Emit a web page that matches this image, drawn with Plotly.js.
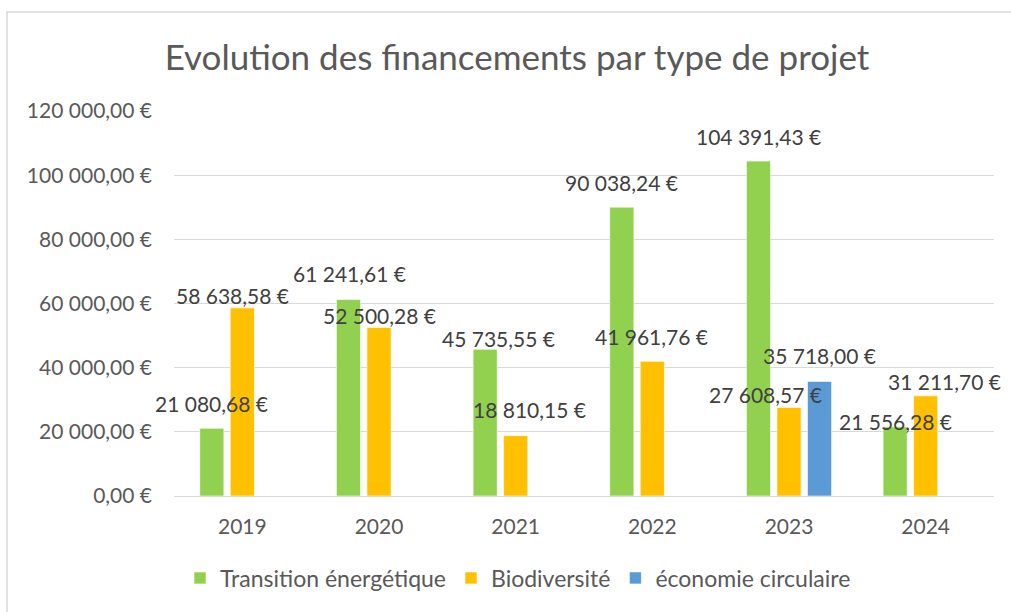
<!DOCTYPE html>
<html>
<head>
<meta charset="utf-8">
<script src="https://cdn.plot.ly/plotly-3.0.1.min.js"></script>
<style>html,body{margin:0;padding:0;background:#fff;}#chart{width:1011px;height:612px;}</style>
</head>
<body>
<div id="chart"></div>
<script>
// ---- data ----
const years = ["2019", "2020", "2021", "2022", "2023", "2024"];
const transition = [21080.68, 61241.61, 45735.55, 90038.24, 104391.43, 21556.28];
const biodiversite = [58638.58, 52500.28, 18810.15, 41961.76, 27608.57, 31211.70];
const economie = [null, null, null, null, 35718.00, null];
const seriesNames = ["Transition énergétique", "Biodiversité", "économie circulaire"];

// ---- style ----
const colors = ["#92D050", "#FFC000", "#5B9BD5"];
const FONT = "Lato, 'Liberation Sans', sans-serif";
const TXT = "#595959";
const BARGAP = 0.33;
const M = {l: 174, r: 17, t: 111, b: 116};
// manual nudges of the data labels (pixels: [dx, dy above bar top]) as in the source chart
const labelNudge = [
  [[0, 25], [1, 26], [13, 11], [0, 25], [0, 25], [0, 5]],
  [[-10, 12], [0, 12], [14, 26], [-1, 25], [-24, 13], [19, 14]],
  [[0, 26], [0, 26], [0, 26], [0, 26], [0, 26], [0, 26]]
];

const allSeries = [transition, biodiversite, economie];

function fmt(v) {
  const parts = v.toFixed(2).split(".");
  parts[0] = parts[0].replace(/\B(?=(\d{3})+(?!\d))/g, " ");
  return parts[0] + "," + parts[1] + " €";
}

const traces = allSeries.map((vals, i) => ({
  type: "bar",
  name: seriesNames[i],
  x: years,
  y: vals,
  marker: {color: colors[i], line: {color: "rgba(255,255,255,0.6)", width: 1}},
  hoverinfo: "none"
}));

const plotW = 1011 - M.l - M.r;
const slotW = plotW / years.length * (1 - BARGAP) / allSeries.length;

const annotations = [];
allSeries.forEach((vals, si) => {
  vals.forEach((v, ci) => {
    if (v === null) return;
    const n = labelNudge[si][ci];
    annotations.push({
      x: ci, y: v, xref: "x", yref: "y",   // category serial number
      text: fmt(v), showarrow: false,
      xanchor: "center", yanchor: "middle",
      xshift: (si - 1) * slotW + n[0], yshift: n[1],
      font: {family: FONT, size: 21, color: "#404040"}
    });
  });
});

const plotH = 612 - M.t - M.b;
const px2x = p => (p - M.l) / plotW;
const py2y = p => (612 - M.b - p) / plotH;

const layout = {
  width: 1011, height: 612,
  margin: M,
  paper_bgcolor: "#fff", plot_bgcolor: "#fff",
  separators: ", ",
  barmode: "group",
  bargap: BARGAP,
  bargroupgap: 0.21,
  title: {
    text: "Evolution des financements par type de projet",
    font: {family: FONT, size: 35, color: TXT},
    x: 517 / 1011, xanchor: "center", xref: "container",
    y: 1 - 58 / 612, yanchor: "middle", yref: "container"
  },
  xaxis: {
    type: "category", range: [-0.5, years.length - 0.5],
    showgrid: false, showline: true, linecolor: "#D9D9D9", linewidth: 1,
    ticks: "", tickfont: {family: FONT, size: 21, color: TXT},
    ticklabelstandoff: 12, fixedrange: true
  },
  yaxis: {
    range: [0, 120000], dtick: 20000,
    tickformat: ",.2f", ticksuffix: " €",
    showgrid: true, gridcolor: "#D9D9D9", gridwidth: 1,
    zeroline: false, showline: false, ticks: "",
    tickfont: {family: FONT, size: 21, color: TXT},
    ticklabelstandoff: 21, fixedrange: true
  },
  legend: {
    orientation: "h", x: px2x(518), xanchor: "center",
    y: py2y(578), yanchor: "middle",
    font: {family: FONT, size: 23, color: TXT},
    traceorder: "normal"
  },
  annotations: annotations,
  shapes: [{
    type: "rect", xref: "paper", yref: "paper",
    x0: px2x(7), x1: px2x(1020), y0: py2y(625), y1: py2y(12),
    line: {color: "#D9D9D9", width: 1.5}, fillcolor: "rgba(0,0,0,0)", layer: "below"
  }]
};

Plotly.newPlot("chart", traces, layout, {displayModeBar: false, staticPlot: true});
</script>
</body>
</html>
